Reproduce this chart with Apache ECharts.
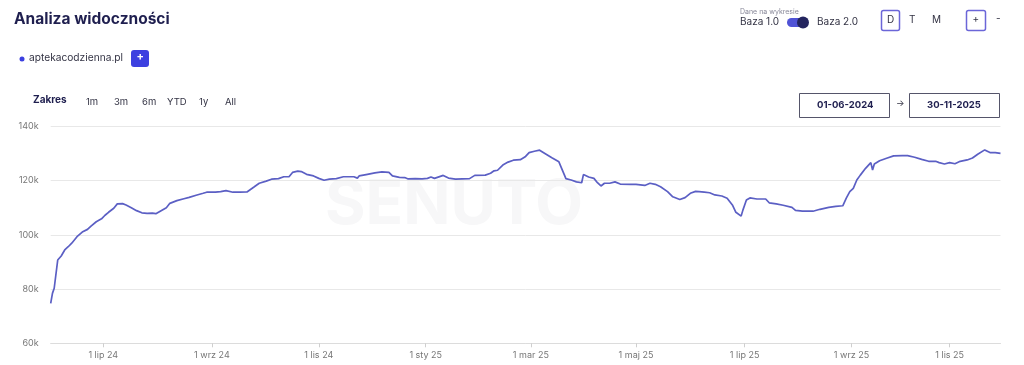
<!DOCTYPE html>
<html><head><meta charset="utf-8">
<script src="https://cdn.jsdelivr.net/npm/echarts@6/dist/echarts.min.js"></script>
<style>html,body{margin:0;padding:0;background:#fff}#c{width:1024px;height:365px}</style>
</head><body><div id="c"></div>
<script>
// day index (days of data since 1 Jun 2024) and visibility values (thousands)
const dayIndex = [0,1,2,3,4,6,8,10,12,15,18,21,23,26,29,31,32,33,36,38,41,43,46,49,52,55,58,60,63,66,68,72,76,79,83,87,
 89,94,97,100,104,108,112,116,119,123,126,130,133,136,138,141,143,146,150,153,156,159,163,167,173,175,176,
 180,185,189,193,195,199,202,204,208,212,215,217,219,224,227,231,235,239,242,248,251,253,255,258,261,264,268,271,
 273,276,279,282,286,290,291,293,294,297,300,303,304,307,310,312,314,316,319,322,325,331,334,339,342,345,348,352,355,359,362,
 365,368,370,373,376,379,380,383,386,389,391,394,395,397,399,403,408,410,414,418,423,425,429,435,439,444,448,452,
 454,456,458,460,462,465,468,469,470,473,477,481,486,489,493,497,501,505,507,510,511,513,516,519,523,526,529,533,534,536,537,539,542];
const visibility = [74.7,78.4,80.3,80.9,90.7,92.2,94.4,95.6,96.9,99.3,101,102,103.2,104.8,105.9,107.2,106.7,108.3,109.8,111.4,111.5,111,110,108.9,108.1,107.9,108,107.8,108.9,110,111.6,112.6,113.3,113.8,114.6,115.3,
 115.7,115.7,115.9,116.3,115.7,115.7,115.8,117.6,119,119.8,120.5,120.7,121.4,121.4,123,123.5,123.3,122.3,121.7,120.8,120.1,120.5,120.7,121.4,121.4,120.9,121.7,
 122.2,122.8,123.2,123,121.7,121.2,121.1,120.6,120.7,120.6,120.8,121.3,120.8,121.9,120.9,120.5,120.6,120.7,121.9,122,122.7,123.6,123.8,125.7,126.8,127.5,127.7,128.9,
 130.3,130.8,131.2,130,128.4,126.9,126.4,122.3,120.7,120.2,119.5,119.2,122.2,121.3,120.8,119.2,118,119,119,119.5,118.7,118.6,118.6,118.2,119,118.6,117.7,115.9,114,113,113.7,
 115.3,116,115.9,115.7,115.5,114.7,115,114.3,113.5,111,108.3,106.9,109.1,112.8,113.6,113.2,113.2,111.8,111.4,110.9,110.1,109,108.7,108.7,109.4,110.1,110.5,110.7,
 113.5,115.9,117.1,120.2,122,124.5,126.6,123.9,126.1,127.3,128.2,129.1,129.2,129.2,128.6,127.8,127.1,127.1,126.6,126.1,126.8,126.6,126.2,127.1,127.6,128.3,129.7,131.3,131.3,130.3,129.8,130.3,130];
const tickIndex = [30,92,153,214,274,334,396,457,513];
const tickLabels = ['1 lip 24','1 wrz 24','1 lis 24','1 sty 25','1 mar 25','1 maj 25','1 lip 25','1 wrz 25','1 lis 25'];
const rangeButtons = ['1m','3m','6m','YTD','1y','All'];
const seriesName = 'aptekacodzienna.pl';

const FONT = 'Inter, "Noto Sans", sans-serif';
const navy = '#1f1f4f';
const chart = echarts.init(document.getElementById('c'));
const txt = (x,y,t,size,color,weight,extra) => Object.assign({type:'text',left:x,top:y,style:{text:t,fontSize:size,fill:color,fontWeight:weight||'normal',fontFamily:FONT}},extra||{});
const rangeX = [86,114,142,167,199,225];
const graphic = [
  {type:'text',left:325,top:174,z:-1,style:{text:'SENUTO',fontSize:62,fontWeight:'bold',fill:'#f7f7f8',fontFamily:FONT}},
  txt(14,11,'Analiza widoczności',15.5,navy,'bold'),
  {type:'circle',shape:{cx:22,cy:59,r:2.5},style:{fill:'#3b3fe0'}},
  txt(29,53,seriesName,10.2,'#333344','normal'),
  {type:'rect',shape:{x:131,y:50,width:18,height:17,r:3},style:{fill:'#3d40e0'}},
  txt(136.5,51.5,'+',11,'#ffffff','bold'),
  txt(33,95,'Zakres',10,navy,'bold'),
  ...rangeButtons.map((b,i)=>txt(rangeX[i],97,b,9.5,'#333344','normal')),
  txt(740,8,'Dane na wykresie',7,'#888899','normal'),
  txt(740,17,'Baza 1.0',10,'#333344','normal'),
  {type:'rect',shape:{x:787,y:18,width:19,height:9,r:4.5},style:{fill:'#5053d6'}},
  {type:'circle',shape:{cx:803,cy:22.5,r:6},style:{fill:'#23245e'}},
  txt(817,17,'Baza 2.0',10,'#333344','normal'),
  {type:'rect',shape:{x:881.5,y:10.5,width:18,height:20,r:2},style:{fill:'#fff',stroke:'#6b66d8',lineWidth:1.5}},
  txt(887,15,'D',10,'#333344','normal'),
  txt(909,15,'T',10,'#333344','normal'),
  txt(932,15,'M',10,'#333344','normal'),
  {type:'rect',shape:{x:966.5,y:10.5,width:19,height:20,r:2},style:{fill:'#fff',stroke:'#6b66d8',lineWidth:1.5}},
  txt(972.5,14,'+',10,'#333344','normal'),
  txt(996,14,'-',10,'#333344','normal'),
  {type:'rect',shape:{x:799.5,y:93.5,width:90,height:24},style:{fill:'#fff',stroke:'#55556a',lineWidth:1}},
  txt(817,100,'01-06-2024',9.5,navy,'bold'),
  txt(896,99,'→',9,'#333344','normal'),
  {type:'rect',shape:{x:909.5,y:93.5,width:90,height:24},style:{fill:'#fff',stroke:'#55556a',lineWidth:1}},
  txt(927,100,'30-11-2025',9.5,navy,'bold')
];
chart.setOption({
  animation:false,
  grid:{left:50.7,right:23.5,top:126.3,bottom:21.7},
  xAxis:{type:'value',min:0,max:542,
    axisLine:{show:true,lineStyle:{color:'#dcdcdc'}},
    axisTick:{show:true,customValues:tickIndex,length:4,lineStyle:{color:'#cfcfcf'}},
    splitLine:{show:false},
    axisLabel:{customValues:tickIndex,formatter:v=>tickLabels[tickIndex.indexOf(v)]||'',color:'#777',fontSize:9,fontFamily:FONT,margin:7}},
  yAxis:{type:'value',min:60,max:140,interval:20,
    axisLine:{show:false},axisTick:{show:false},
    axisLabel:{formatter:v=>v+'k',color:'#777',fontSize:9,fontFamily:FONT,margin:12},
    splitLine:{lineStyle:{color:'#e8e8e8'}}},
  series:[{type:'line',name:seriesName,data:dayIndex.map((d,i)=>[d,visibility[i]]),showSymbol:false,
    lineStyle:{color:'#5b5fc4',width:1.7},itemStyle:{color:'#5b5fc4'}}],
  graphic:graphic
});
</script></body></html>
